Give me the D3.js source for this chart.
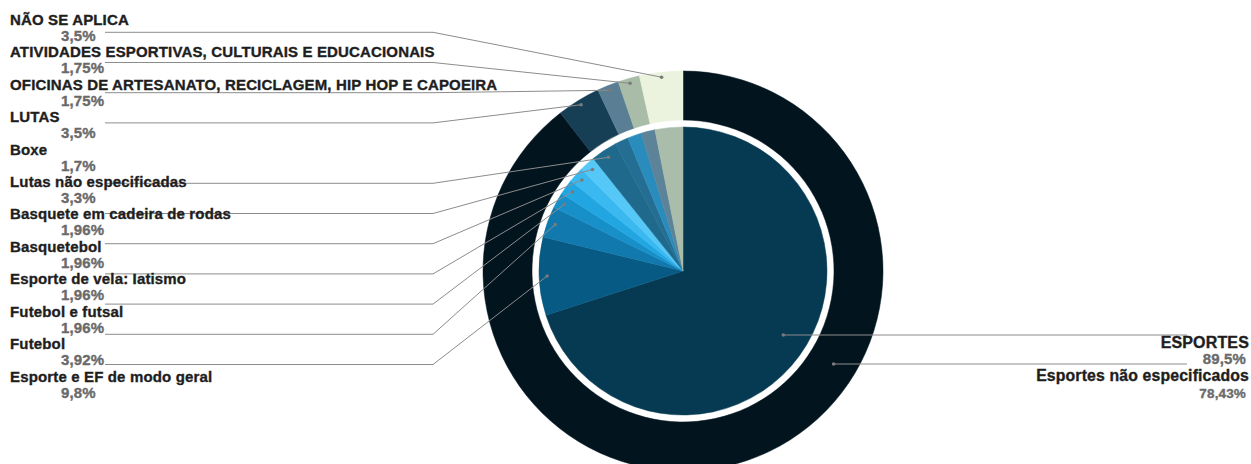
<!DOCTYPE html>
<html>
<head>
<meta charset="utf-8">
<script src="https://cdn.jsdelivr.net/npm/d3@7"></script>
<style>
  html, body { margin: 0; padding: 0; background: #ffffff; }
  svg { display: block; }
</style>
</head>
<body>
<svg id="chart" width="1251" height="464"></svg>
<script>
// ---------- DATA ----------
const outerCategories = ["ESPORTES", "LUTAS", "OFICINAS DE ARTESANATO, RECICLAGEM, HIP HOP E CAPOEIRA", "ATIVIDADES ESPORTIVAS, CULTURAIS E EDUCACIONAIS", "NÃO SE APLICA"];
const outerValues = [89.5, 3.5, 1.75, 1.75, 3.5];
const outerColors = ["#02151f", "#163f56", "#5a7f94", "#a8bca8", "#ebf2dd"];

const innerCategories = ["Esportes não especificados", "Esporte e EF de modo geral", "Futebol", "Futebol e futsal", "Esporte de vela: Iatismo", "Basquetebol", "Basquete em cadeira de rodas", "Lutas não especificadas", "Boxe", "Oficinas", "Atividades", "Não se aplica"];
const innerValues = [78.43, 9.8, 3.92, 1.96, 1.96, 1.96, 1.96, 3.3, 1.7, 1.75, 1.75, 3.5];
const innerColors = ["#053a52", "#075a84", "#1179ad", "#1790c9", "#22a6e2", "#3ab8f0", "#55c8f8", "#1f6a8c", "#236e92", "#2a8cbc", "#5d8398", "#a9bdaa"];

// left-side labels (top to bottom)
const leftLabels = ["NÃO SE APLICA", "ATIVIDADES ESPORTIVAS, CULTURAIS E EDUCACIONAIS", "OFICINAS DE ARTESANATO, RECICLAGEM, HIP HOP E CAPOEIRA", "LUTAS", "Boxe", "Lutas não especificadas", "Basquete em cadeira de rodas", "Basquetebol", "Esporte de vela: Iatismo", "Futebol e futsal", "Futebol", "Esporte e EF de modo geral"];
const leftValues = [3.5, 1.75, 1.75, 3.5, 1.7, 3.3, 1.96, 1.96, 1.96, 1.96, 3.92, 9.8];
const leftRing = ["outer", "outer", "outer", "outer", null, "inner", "inner", "inner", "inner", "inner", "inner", "inner"];
const leftSlice = [4, 3, 2, 1, null, 7, 6, 5, 4, 3, 2, 1];

const rightLabels = ["ESPORTES", "Esportes não especificados"];
const rightValues = [89.5, 78.43];

// ---------- LAYOUT ----------
const svg = d3.select("#chart");
const cx = 683, cy = 271;
const rInner = 144, rRingIn = 151, rRingOut = 200;

const pie = d3.pie().sort(null).value(d => d);
const outerArcs = pie(outerValues);
const innerArcs = pie(innerValues);

const arcOuter = d3.arc().innerRadius(rRingIn).outerRadius(rRingOut);
const arcInner = d3.arc().innerRadius(0).outerRadius(rInner);

const g = svg.append("g").attr("transform", `translate(${cx},${cy})`);

g.selectAll("path.outer").data(outerArcs).join("path")
  .attr("class", "outer")
  .attr("d", arcOuter)
  .attr("fill", (d, i) => outerColors[i])
  .attr("stroke", (d, i) => outerColors[i]).attr("stroke-width", 0.5);

g.selectAll("path.inner").data(innerArcs).join("path")
  .attr("class", "inner")
  .attr("d", arcInner)
  .attr("fill", (d, i) => innerColors[i])
  .attr("stroke", (d, i) => innerColors[i]).attr("stroke-width", 0.5);

// helpers
const fmt = v => String(v).replace(".", ",") + "%";
const midPoint = (a, r) => {
  const ang = (a.startAngle + a.endAngle) / 2;
  return [cx + r * Math.sin(ang), cy - r * Math.cos(ang)];
};

// label slot scales
const labelY = d3.scaleLinear().domain([0, 11]).range([25, 381.5]);
const lineY = d3.scaleLinear().domain([0, 11]).range([32.3, 364.5]);
const xText = 10, xPct = 61, xLineStart = 105, xBend = 433;

const lineColor = "#8c8c8c";
const lines = svg.append("g");
const dots = svg.append("g");

leftLabels.forEach((lab, i) => {
  if (!leftRing[i]) return;
  const a = leftRing[i] === "outer" ? outerArcs[leftSlice[i]] : innerArcs[leftSlice[i]];
  const r = leftRing[i] === "outer" ? 195 : 136;
  const [px, py] = midPoint(a, r);
  const y = lineY(i);
  lines.append("polyline")
    .attr("points", `${xLineStart},${y} ${xBend},${y} ${px},${py}`)
    .attr("fill", "none").attr("stroke", lineColor).attr("stroke-width", 1);
  dots.append("circle").attr("cx", px).attr("cy", py).attr("r", 1.8).attr("fill", "#7a7a7a");
});

// right side leader lines
const rightLineY = [335, 364];
const rightRadius = [119, 177];
const xRightEnd = 1187;
rightLineY.forEach((y, i) => {
  const dy = y - cy;
  const px = cx + Math.sqrt(rightRadius[i] * rightRadius[i] - dy * dy);
  lines.append("line").attr("x1", px).attr("y1", y).attr("x2", xRightEnd).attr("y2", y)
    .attr("stroke", lineColor).attr("stroke-width", 1);
  dots.append("circle").attr("cx", px).attr("cy", y).attr("r", 1.8).attr("fill", "#7a7a7a");
});

// ---------- TEXT ----------
const font = "'Liberation Sans', Arial, sans-serif";
const texts = svg.append("g").attr("font-family", font).attr("font-weight", "bold");

function heavy(sel, color) {
  return sel.attr("fill", color).attr("stroke", color).attr("stroke-width", 0.35)
    .attr("letter-spacing", 0.15);
}

leftLabels.forEach((lab, i) => {
  heavy(texts.append("text").attr("x", xText).attr("y", labelY(i))
    .attr("font-size", 15), "#1e1e1e").text(lab);
  heavy(texts.append("text").attr("x", xPct).attr("y", labelY(i) + 16)
    .attr("font-size", 15), "#6a6a6a").text(fmt(leftValues[i]));
});

const rightLabelY = [348, 381];
const rightPctY = [364, 398];
const rightLabelSize = [16, 15.8];
const rightPctSize = [15, 13.5];
rightLabels.forEach((lab, i) => {
  heavy(texts.append("text").attr("x", 1249).attr("y", rightLabelY[i]).attr("text-anchor", "end")
    .attr("font-size", rightLabelSize[i]), "#1e1e1e").text(lab);
  heavy(texts.append("text").attr("x", 1246).attr("y", rightPctY[i]).attr("text-anchor", "end")
    .attr("font-size", rightPctSize[i]), "#6a6a6a").text(fmt(rightValues[i]));
});
</script>
</body>
</html>
